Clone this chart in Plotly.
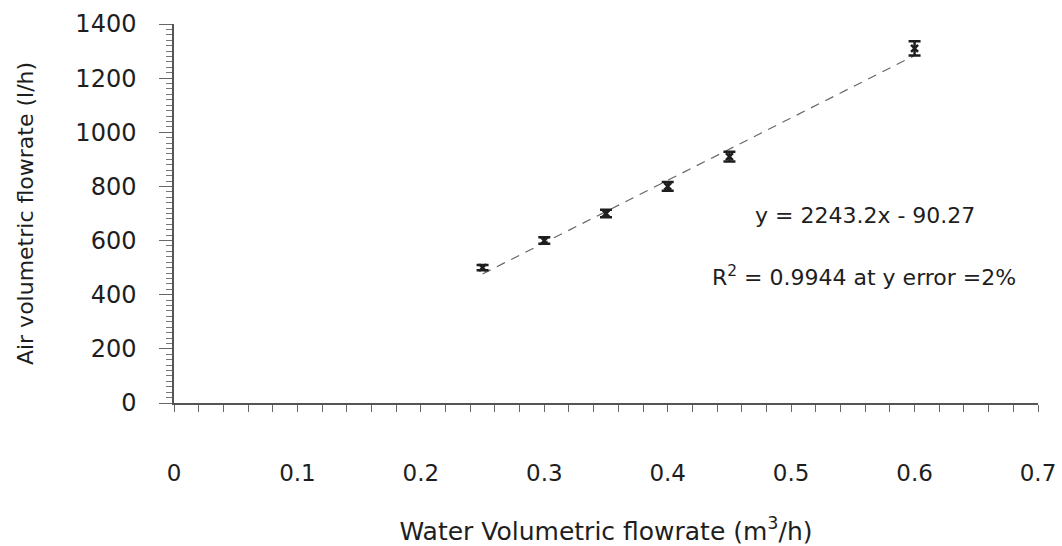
import numpy as np
import plotly.graph_objects as go

water_flow = [0.25, 0.30, 0.35, 0.40, 0.45, 0.60]
air_flow = [500, 600, 700, 800, 910, 1310]
y_error_pct = 2
x_tick_vals = [0, 0.1, 0.2, 0.3, 0.4, 0.5, 0.6, 0.7]
x_tick_text = ["0", "0.1", "0.2", "0.3", "0.4", "0.5", "0.6", "0.7"]
eq_text = "y = 2243.2x - 90.27"
r2_text = "R<sup>2</sup> = 0.9944 at y error =2%"

slope, intercept = np.polyfit(water_flow, air_flow, 1)
fit_x = [min(water_flow), max(water_flow)]
fit_y = [slope * v + intercept for v in fit_x]

FONT = "DejaVu Sans, Liberation Sans, Arial, sans-serif"
ink = "#1e1e1e"

fig = go.Figure()
fig.add_trace(go.Scatter(
    x=fit_x, y=fit_y, mode="lines",
    line=dict(color="#666666", width=1.2, dash="9px,7px"),
    showlegend=False, hoverinfo="skip"))
fig.add_trace(go.Scatter(
    x=water_flow, y=air_flow, mode="markers",
    marker=dict(symbol="x-thin", size=7, line=dict(color=ink, width=2.5), color=ink),
    error_y=dict(type="percent", value=y_error_pct, color=ink, thickness=2.5, width=6),
    showlegend=False))

fig.add_annotation(x=0.4687, y=693, xref="x", yref="y", text=eq_text, showarrow=False,
                   xanchor="left", yanchor="middle", font=dict(family=FONT, size=22, color=ink))
fig.add_annotation(x=0.434, y=470, xref="x", yref="y", text=r2_text, showarrow=False,
                   xanchor="left", yanchor="middle", font=dict(family=FONT, size=22, color=ink))

fig.update_layout(
    width=1062, height=546,
    margin=dict(l=174, r=24, t=24, b=143),
    paper_bgcolor="white", plot_bgcolor="white",
    font=dict(family=FONT, size=22, color=ink),
)
fig.update_xaxes(
    range=[0, 0.7], tickvals=x_tick_vals, ticktext=x_tick_text, automargin=False,
    showgrid=False, zeroline=False, showline=True, linecolor="#555", linewidth=1.5,
    ticks="outside", ticklen=7, tickcolor="#666", ticklabelstandoff=42,
    minor=dict(dtick=0.02, ticks="outside", ticklen=7, tickcolor="#666"),
    title=dict(text="Water Volumetric flowrate (m<sup>3</sup>/h)", standoff=38,
               font=dict(family=FONT, size=25, color=ink)),
    tickfont=dict(family=FONT, size=23, color=ink),
)
fig.update_yaxes(
    range=[0, 1400], dtick=200, automargin=False,
    showgrid=False, zeroline=False, showline=True, linecolor="#555", linewidth=1.5,
    ticks="outside", ticklen=13, tickcolor="#666", ticklabelstandoff=18,
    minor=dict(dtick=20, ticks="outside", ticklen=6, tickcolor="#777"),
    title=dict(text="Air volumetric flowrate (l/h)", standoff=36,
               font=dict(family=FONT, size=22, color=ink)),
    tickfont=dict(family=FONT, size=24, color=ink),
)

fig.write_html("out.html")
